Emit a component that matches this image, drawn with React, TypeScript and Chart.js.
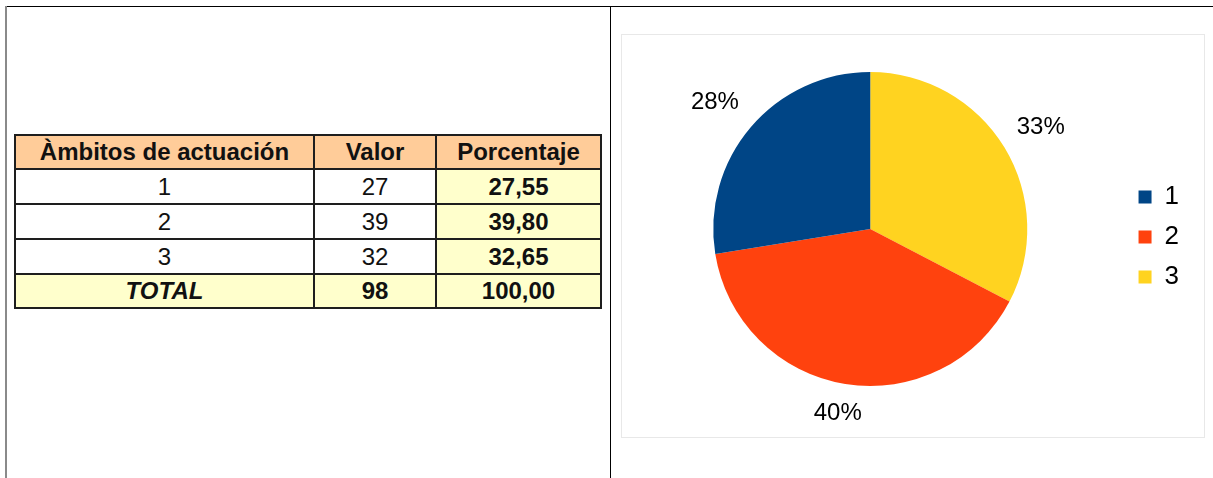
import React, { useEffect, useRef } from "react";
import { Chart, registerables } from "chart.js";

Chart.register(...registerables);

// ---- data ----
const categories = ["1", "2", "3"];
const values = [27, 39, 32];
const sliceColors = ["#004586", "#ff420e", "#ffd320"];
const headers = ["Àmbitos de actuación", "Valor", "Porcentaje"];
const totalLabel = "TOTAL";

const total = values.reduce((a, b) => a + b, 0);
const pctText = (v: number) => ((v / total) * 100).toFixed(2).replace(".", ",");

const FONT = '"Liberation Sans", Arial, sans-serif';

const pctLabelPlugin = {
  id: "pctLabels",
  afterDatasetsDraw(chart: any) {
    const ctx = chart.ctx;
    const meta = chart.getDatasetMeta(0);
    const data = chart.data.datasets[0].data as number[];
    const sum = data.reduce((a, b) => a + b, 0);
    ctx.save();
    ctx.font = `24px ${FONT}`;
    ctx.fillStyle = "#000";
    ctx.textAlign = "center";
    ctx.textBaseline = "middle";
    meta.data.forEach((arc: any, i: number) => {
      const p = arc.getProps(["x", "y", "startAngle", "endAngle", "outerRadius"], true);
      const mid = (p.startAngle + p.endAngle) / 2;
      const dx = Math.cos(mid);
      const dy = Math.sin(mid);
      const text = Math.round((data[i] / sum) * 100) + "%";
      const w = ctx.measureText(text).width;
      const h = 20;
      const r = p.outerRadius + 23;
      const shiftX = dx > 0 ? -4 : 0;
      ctx.fillText(text, p.x + dx * r + (dx * w) / 2 + shiftX, p.y + dy * r + (dy * h) / 2 - 3);
    });
    ctx.restore();
  },
};

function PieChart() {
  const ref = useRef<HTMLCanvasElement>(null);
  useEffect(() => {
    if (!ref.current) return;
    const order = [2, 1, 0];
    const chart = new Chart(ref.current, {
      type: "pie",
      data: {
        labels: order.map((i) => categories[i]),
        datasets: [
          {
            data: order.map((i) => values[i]),
            backgroundColor: order.map((i) => sliceColors[i]),
            borderWidth: 0,
            radius: 157,
          } as any,
        ],
      },
      options: {
        animation: false,
        responsive: false,
        maintainAspectRatio: false,
        events: [],
        layout: { padding: { left: 5, right: 16, top: 20, bottom: 34 } },
        plugins: {
          legend: {
            position: "right",
            reverse: true,
            labels: {
              boxWidth: 13,
              boxHeight: 13,
              padding: 14,
              color: "#000",
              font: { size: 26, family: FONT },
            },
            title: { display: true, text: " ", padding: 2, font: { size: 10 } },
          },
          tooltip: { enabled: false },
        },
      } as any,
      plugins: [pctLabelPlugin],
    });
    return () => chart.destroy();
  }, []);
  return (
    <canvas
      ref={ref}
      width={594}
      height={404}
      style={{ position: "absolute", left: 611, top: 34, width: 594, height: 404 }}
    />
  );
}

const cellBase: React.CSSProperties = {
  border: "2px solid #1e1e1e",
  textAlign: "center",
  padding: 0,
  fontFamily: FONT,
  fontSize: 24,
  color: "#111",
  lineHeight: "28px",
};

export default function App() {
  const hdr: React.CSSProperties = { ...cellBase, background: "#ffcc99", fontWeight: "bold" };
  const white: React.CSSProperties = { ...cellBase, background: "#fff" };
  const yellow: React.CSSProperties = { ...cellBase, background: "#ffffcc" };
  return (
    <div style={{ position: "absolute", left: 0, top: 0, width: 1213, height: 478, background: "#fff", overflow: "hidden" }}>
      <div style={{ position: "absolute", left: 5, top: 6, width: 1208, height: 1, background: "#000" }} />
      <div style={{ position: "absolute", left: 5, top: 6, width: 2, height: 472, background: "#8a8a8a" }} />
      <div style={{ position: "absolute", left: 610, top: 6, width: 1, height: 472, background: "#000" }} />

      <table
        style={{
          position: "absolute",
          left: 14,
          top: 134,
          width: 586,
          borderCollapse: "collapse",
          tableLayout: "fixed",
        }}
      >
        <colgroup>
          <col style={{ width: 299 }} />
          <col style={{ width: 122 }} />
          <col style={{ width: 165 }} />
        </colgroup>
        <tbody>
          <tr style={{ height: 34 }}>
            {headers.map((h) => (
              <td key={h} style={hdr}>{h}</td>
            ))}
          </tr>
          {categories.map((c, i) => (
            <tr key={c} style={{ height: 35 }}>
              <td style={white}>{c}</td>
              <td style={white}>{values[i]}</td>
              <td style={{ ...yellow, fontWeight: "bold" }}>{pctText(values[i])}</td>
            </tr>
          ))}
          <tr style={{ height: 34 }}>
            <td style={{ ...yellow, fontWeight: "bold", fontStyle: "italic" }}>{totalLabel}</td>
            <td style={{ ...yellow, fontWeight: "bold" }}>{total}</td>
            <td style={{ ...yellow, fontWeight: "bold" }}>{pctText(total)}</td>
          </tr>
        </tbody>
      </table>

      <div
        style={{
          position: "absolute",
          left: 621,
          top: 34,
          width: 584,
          height: 404,
          boxSizing: "border-box",
          border: "1px solid #e8e8e8",
        }}
      />
      <PieChart />
    </div>
  );
}
